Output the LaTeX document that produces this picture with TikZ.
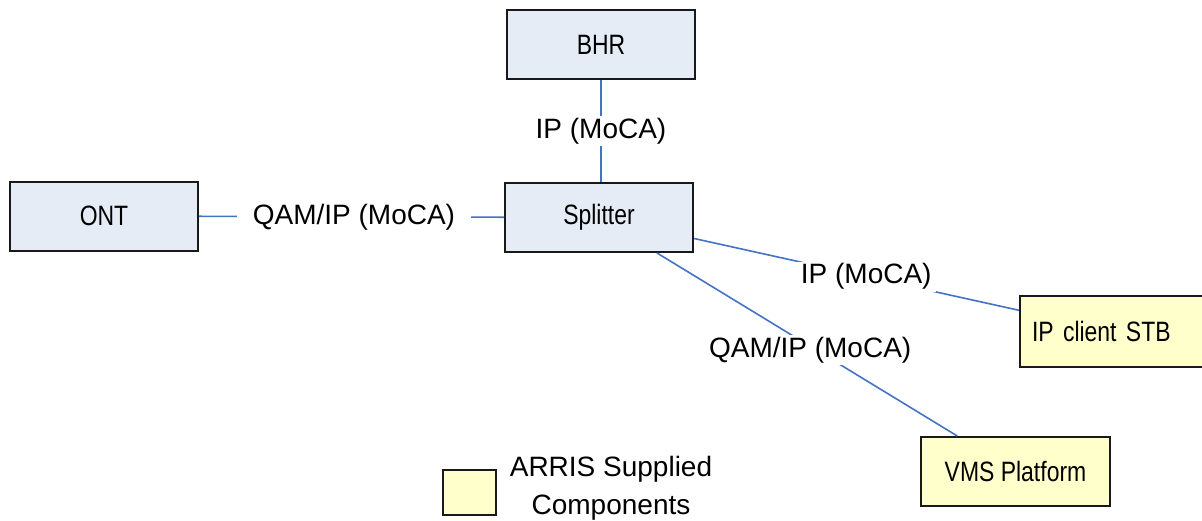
\documentclass[tikz,border=0pt]{standalone}
\usepackage{fontspec}
\setmainfont{Liberation Sans}
\newfontfamily\boxfont[FakeStretch=0.82]{Liberation Sans}
\definecolor{boxblue}{RGB}{230,236,246}
\definecolor{boxyellow}{RGB}{255,255,204}
\definecolor{linkblue}{RGB}{68,114,196}
\begin{document}
\begin{tikzpicture}[x=1pt,y=-1pt,
  comp/.style={draw=black!90, line width=2pt, fill=boxblue, minimum width=188pt, minimum height=69pt, inner sep=0pt, font=\boxfont\fontsize{28}{34}\selectfont},
  arris/.style={comp, fill=boxyellow},
  link/.style={draw=linkblue, line width=1.6pt},
  lbl/.style={fill=white, inner xsep=4pt, inner ysep=2pt, font=\fontsize{28}{34}\selectfont}]
\useasboundingbox (0,0) rectangle (1202,520);
\node[comp] (bhr) at (601,44.5) {BHR};
\node[comp] (ont) at (104,216) {ONT};
\node[comp] (split) at (599,217.5) {Splitter};
\node[arris, minimum width=190pt, minimum height=71pt, text width=166pt, align=left, inner xsep=12pt] (stb) at (1115,331.5) {IP client STB};
\node[arris, minimum width=189pt, minimum height=69pt] (vms) at (1015.5,471.5) {VMS Platform};
\node[arris, minimum width=53pt, minimum height=45pt] (legend) at (469.5,492.5) {};
\node[font=\fontsize{28}{38}\selectfont, align=center, inner sep=0pt] (legtxt) at (611,488) {ARRIS Supplied\\Components};
\draw[link] (bhr.south) -- node[lbl, pos=0.5] (l1) {IP (MoCA)} (bhr.south |- split.north);
\draw[link] (ont) -- node[lbl, inner xsep=16pt, pos=0.508] (l2) {QAM/IP (MoCA)} (split);
\draw[link] (split) -- node[lbl, pos=0.53] (l3) {IP (MoCA)} (stb);
\draw[link] (split) -- node[lbl, pos=0.51, yshift=-4pt] (l4) {QAM/IP (MoCA)} (vms);
\end{tikzpicture}
\end{document}
